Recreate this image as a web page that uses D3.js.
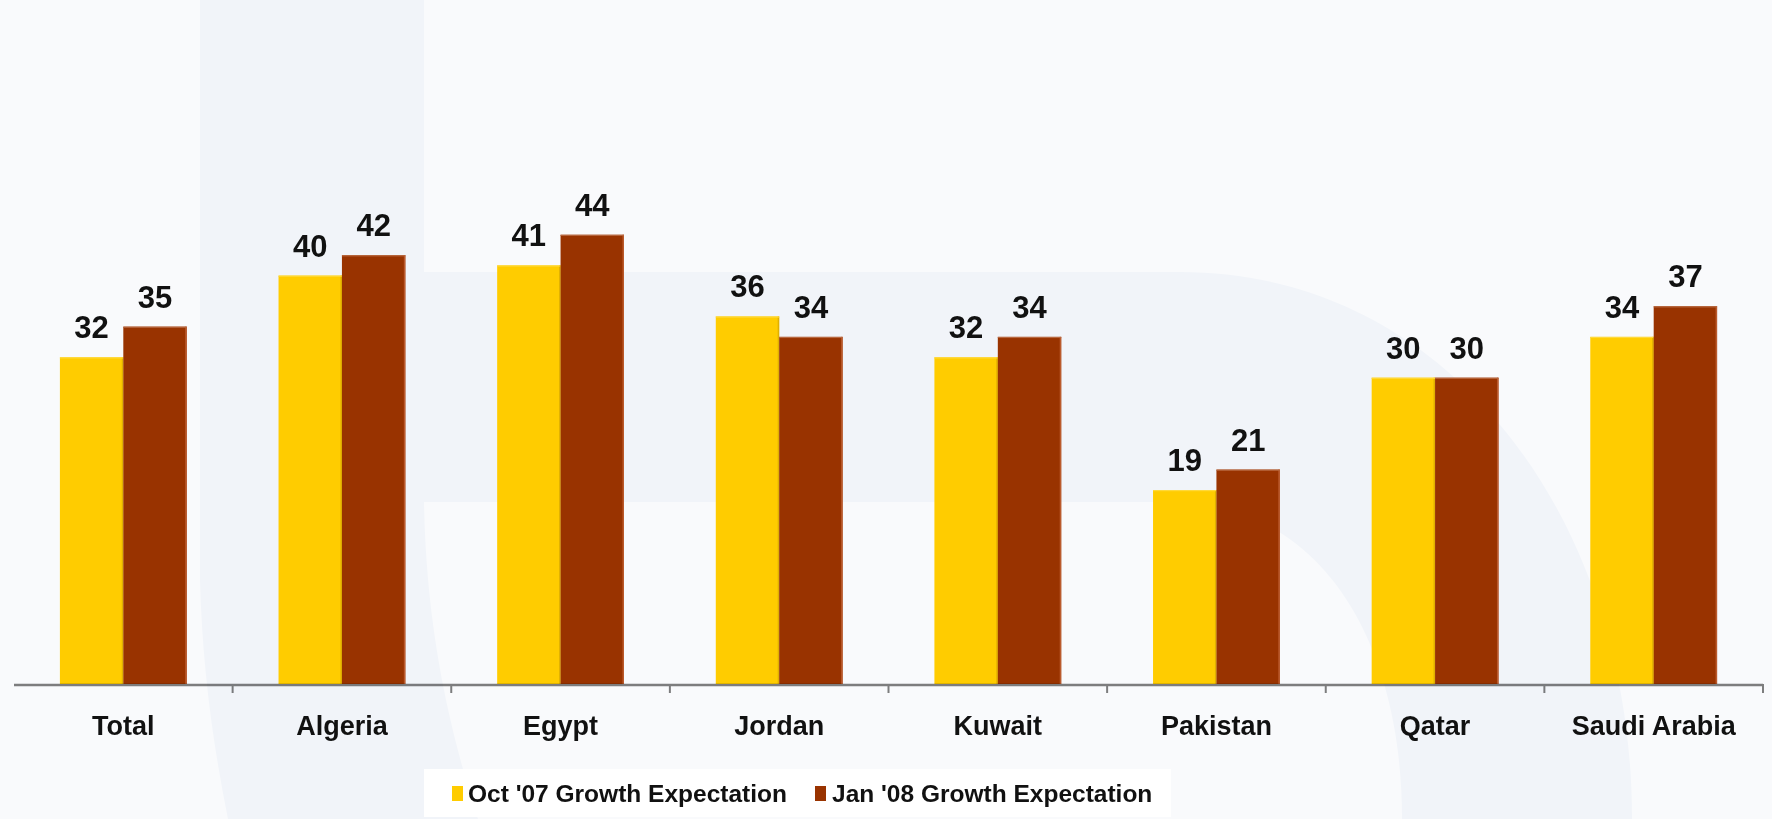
<!DOCTYPE html>
<html>
<head>
<meta charset="utf-8">
<script src="https://cdn.jsdelivr.net/npm/d3@7"></script>
<style>
  html, body { margin: 0; padding: 0; background: #f9fafc; }
  svg { display: block; font-family: "Liberation Sans", Arial, sans-serif; }
</style>
</head>
<body>
<svg id="chart" width="1772" height="819"></svg>
<script>
// Growth expectation by market, two survey waves
const categories = ["Total", "Algeria", "Egypt", "Jordan", "Kuwait", "Pakistan", "Qatar", "Saudi Arabia"];
const oct07 = [32, 40, 41, 36, 32, 19, 30, 34];
const jan08 = [35, 42, 44, 34, 34, 21, 30, 37];
const seriesNames = ["Oct '07 Growth Expectation", "Jan '08 Growth Expectation"];
const seriesColors = ["#ffcc00", "#993300"];

const W = 1772, H = 819;
const svg = d3.select("#chart");

// faint background watermark (large lowercase "b")
const bg = svg.append("g");
bg.append("rect").attr("width", W).attr("height", H).attr("fill", "#f9fafc");
bg.append("path")
  .attr("fill", "#f1f4f9")
  .attr("d", "M200,0 L424,0 L424,272 L1180,272 C1450,272 1632,520 1632,819 L228,819 C212,740 202,660 200,580 Z");
bg.append("path")
  .attr("fill", "#f9fafc")
  .attr("d", "M424,502 L1170,502 C1320,502 1402,640 1402,819 L478,819 C446,720 426,620 424,502 Z");

const baseY = 684;
const x0 = d3.scaleBand().domain(categories).range([14, 1763]).paddingInner(0).paddingOuter(0);
const bw = x0.bandwidth();
const x1 = d3.scaleBand().domain([0, 1]).range([bw * 0.21, bw * 0.79]).padding(0);
const y = d3.scaleLinear().domain([0, 60]).range([baseY, baseY - 612.6]);

const rows = categories.map((c, i) => ({ cat: c, vals: [oct07[i], jan08[i]] }));

const groups = svg.append("g").selectAll("g.grp")
  .data(rows).join("g")
  .attr("class", "grp")
  .attr("transform", d => `translate(${x0(d.cat)},0)`);

const edgeColors = ["#e0b000", "#bb5a2c"];
const topColors = ["#ffd93a", "#b8683f"];

const bars = groups.selectAll("g.bar")
  .data(d => d.vals.map((v, k) => ({ v, k })))
  .join("g").attr("class", "bar");

bars.append("rect")
  .attr("x", d => x1(d.k))
  .attr("y", d => y(d.v))
  .attr("width", x1.bandwidth())
  .attr("height", d => baseY - y(d.v))
  .attr("fill", d => seriesColors[d.k]);

// thin right-edge and top highlights
bars.append("rect")
  .attr("x", d => x1(d.k) + x1.bandwidth() - 1.5)
  .attr("y", d => y(d.v))
  .attr("width", 1.5)
  .attr("height", d => baseY - y(d.v))
  .attr("fill", d => edgeColors[d.k]);
bars.append("rect")
  .attr("x", d => x1(d.k))
  .attr("y", d => y(d.v))
  .attr("width", x1.bandwidth())
  .attr("height", 1.2)
  .attr("fill", d => topColors[d.k]);

// value labels
bars.append("text")
  .attr("x", d => x1(d.k) + x1.bandwidth() / 2)
  .attr("y", d => y(d.v) - 19)
  .attr("text-anchor", "middle")
  .attr("font-size", 31)
  .attr("font-weight", "bold")
  .attr("fill", "#111")
  .text(d => d.v);

// category axis
const axisG = svg.append("g").style("mix-blend-mode", "multiply");
axisG.append("line")
  .attr("x1", x0.range()[0]).attr("x2", x0.range()[1])
  .attr("y1", baseY + 1).attr("y2", baseY + 1)
  .attr("stroke", "#808080").attr("stroke-width", 2.5);
axisG.selectAll("line.tick")
  .data(categories)
  .join("line").attr("class", "tick")
  .attr("x1", d => x0(d) + bw).attr("x2", d => x0(d) + bw)
  .attr("y1", baseY).attr("y2", baseY + 9)
  .attr("stroke", "#808080").attr("stroke-width", 2);

svg.append("g").selectAll("text.cat")
  .data(categories).join("text").attr("class", "cat")
  .attr("x", d => x0(d) + bw / 2)
  .attr("y", 735)
  .attr("text-anchor", "middle")
  .attr("font-size", 27)
  .attr("font-weight", "bold")
  .attr("fill", "#111")
  .text(d => d);

// legend
const legend = svg.append("g");
legend.append("rect")
  .attr("x", 424).attr("y", 769).attr("width", 747).attr("height", 48)
  .attr("fill", "#ffffff");
const legendItems = [{ sx: 452, tx: 468 }, { sx: 815, tx: 832 }];
legendItems.forEach((it, k) => {
  legend.append("rect")
    .attr("x", it.sx).attr("y", 786).attr("width", 11).attr("height", 15)
    .attr("fill", seriesColors[k]);
  legend.append("text")
    .attr("x", it.tx).attr("y", 802)
    .attr("font-size", 24.5)
    .attr("font-weight", "bold")
    .attr("fill", "#111")
    .text(seriesNames[k]);
});
</script>
</body>
</html>
